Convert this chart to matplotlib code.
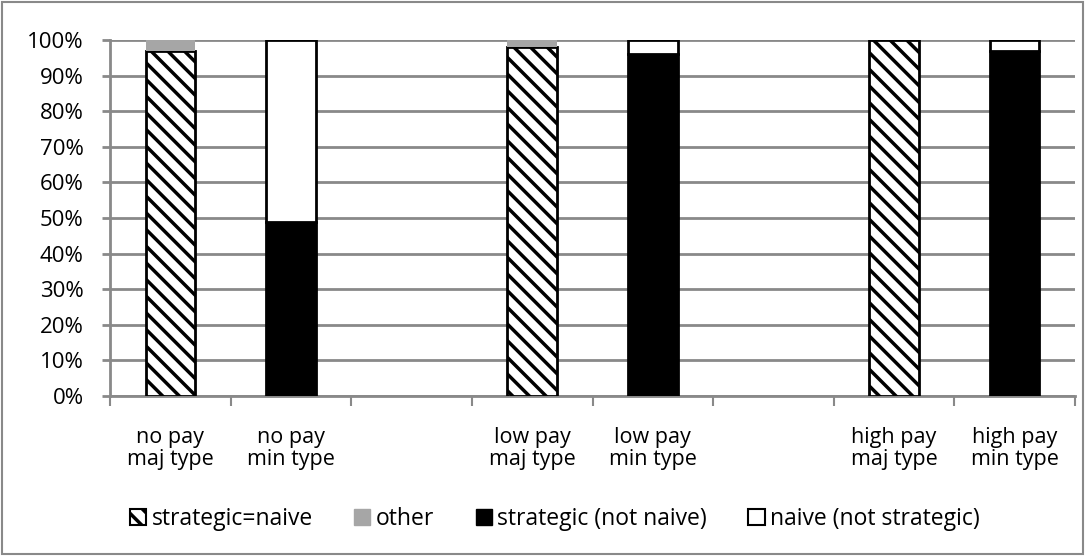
import matplotlib
matplotlib.use('Agg')
from matplotlib import pyplot as plt
from matplotlib.patches import Patch, Rectangle
import numpy as np

labels = ['no pay\nmaj type', 'no pay\nmin type', '',
          'low pay\nmaj type', 'low pay\nmin type', '',
          'high pay\nmaj type', 'high pay\nmin type']
strategic_naive = [97, 0, 0, 98, 0, 0, 100, 0]
other = [3, 0, 0, 2, 0, 0, 0, 0]
strategic_only = [0, 49, 0, 0, 96, 0, 0, 97]
naive_only = [0, 51, 0, 0, 4, 0, 0, 3]

plt.rcParams['font.family'] = ['Open Sans', 'DejaVu Sans']
plt.rcParams['hatch.linewidth'] = 2.5
plt.rcParams['hatch.color'] = 'black'

fig = plt.figure(figsize=(10.85, 5.56), dpi=100)
ax = fig.add_axes([110 / 1085, 1 - 396 / 556, 965 / 1085, 356 / 556])

x = np.arange(len(labels))
w = 0.41
grey = '#a6a6a6'
line_grey = '#898989'
fs = 15.5

sn = np.array(strategic_naive)
ot = np.array(other)
so = np.array(strategic_only)
no = np.array(naive_only)

m = sn > 0
ax.bar(x[m], sn[m], w, color='white', edgecolor='black', linewidth=2, hatch='\\\\', zorder=3)
m = ot > 0
ax.bar(x[m], ot[m], w, bottom=sn[m], color=grey, edgecolor=grey, linewidth=0, zorder=3)
m = so > 0
ax.bar(x[m], so[m], w, color='black', edgecolor='black', linewidth=2, zorder=3)
m = no > 0
ax.bar(x[m], no[m], w, bottom=so[m], color='white', edgecolor='black', linewidth=2, zorder=3)

ax.set_xlim(-0.5, len(labels) - 0.5)
ax.set_ylim(0, 100)
ax.set_yticks(np.arange(0, 101, 10))
ax.set_yticklabels([f'{v}%' for v in range(0, 101, 10)])
ax.yaxis.grid(True, color=line_grey, linewidth=2, zorder=0)
ax.set_axisbelow(True)

ax.set_xticks(x)
ax.set_xticklabels(labels, linespacing=1.1)
ax.set_xticks(np.arange(-0.5, len(labels)), minor=True)
ax.tick_params(axis='x', which='major', length=0, pad=22, labelsize=fs)
ax.tick_params(axis='x', which='minor', length=7, width=1.5, color=line_grey, direction='out')
ax.tick_params(axis='y', length=6, width=2, color=line_grey, direction='out',
               labelsize=16, pad=13)

for s in ['top', 'right']:
    ax.spines[s].set_visible(False)
ax.spines['left'].set_color(line_grey)
ax.spines['left'].set_linewidth(2)
ax.spines['bottom'].set_color(line_grey)
ax.spines['bottom'].set_linewidth(2)

handles = [
    Patch(facecolor='white', edgecolor='black', hatch='\\\\', linewidth=1.5),
    Patch(facecolor=grey, edgecolor=grey),
    Patch(facecolor='black', edgecolor='black'),
    Patch(facecolor='white', edgecolor='black', linewidth=1.5),
]
names = ['strategic=naive', 'other', 'strategic (not naive)', 'naive (not strategic)']
fig.legend(handles, names, loc='center', bbox_to_anchor=(555 / 1085, 1 - 519 / 556), ncol=4,
           frameon=False, fontsize=16.5, handlelength=0.7, handleheight=0.7,
           handletextpad=0.25, columnspacing=1.8)

fig.patches.append(Rectangle((2 / 1085, 2 / 556), 1 - 4 / 1085, 1 - 4 / 556,
                             transform=fig.transFigure, fill=False,
                             edgecolor=line_grey, linewidth=1.5))

fig.savefig('out.png', dpi=100)
